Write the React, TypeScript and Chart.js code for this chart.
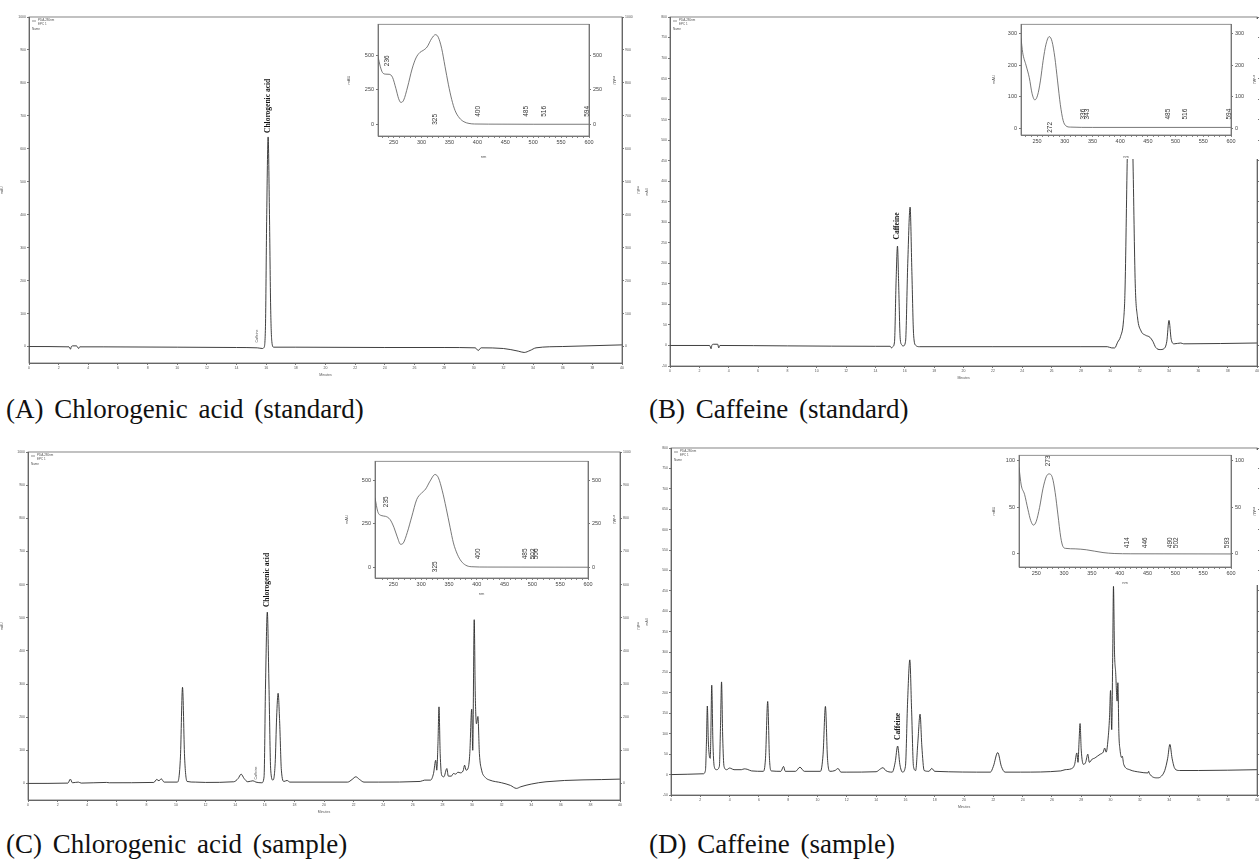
import React, { useEffect, useRef } from "react";
import { Chart, registerables } from "chart.js";

Chart.register(...registerables);
Chart.defaults.font.family = "'Liberation Sans', Arial, sans-serif";

type Pt = [number, number];
type TextItem = { x: number; y: number; text: string; font: string; align: CanvasTextAlign; color: string };

// ---------- chromatogram data (time in minutes, response in mAU) ----------
const chromA: Pt[] = [
  [0, 0], [2.7, -1], [2.8, -8], [2.85, -1], [2.95, 2], [3.2, 2], [3.35, -6], [3.42, -1], [5, -1], [10, -2],
  [14, -3], [15.4, -4], [15.75, -6], [15.85, -3], [15.95, 60], [16.03, 380], [16.13, 636], [16.22, 400],
  [16.3, 120], [16.38, 15], [16.5, -2], [18, -2], [24, -3], [28, -3], [30.1, -4], [30.3, -12], [30.5, -4],
  [32, -6], [33, -14], [33.4, -18], [33.8, -12], [34.2, -4], [36, 0], [40, 5],
];

const chromB: Pt[] = [
  [0, 0], [2.7, 0], [2.8, -8], [2.85, 0], [2.95, 3], [3.25, 3], [3.32, -6], [3.4, 0], [8, -1], [14, -2],
  [15.0, -2], [15.1, -6], [15.2, -2], [15.3, 10], [15.4, 150], [15.5, 242], [15.58, 150], [15.68, 20],
  [15.78, 2], [15.9, -1], [16.05, 10], [16.2, 200], [16.36, 337], [16.48, 180], [16.6, 25], [16.75, 0],
  [17, -3], [22, -3], [28, -3], [29.8, -3], [30.1, -6], [30.3, -6], [30.5, 8], [30.7, 22], [30.9, 60],
  [31.0, 130], [31.16, 463], [31.35, 780], [31.54, 463], [31.7, 150], [31.85, 70], [32.1, 35], [32.4, 25],
  [32.7, 20], [32.9, 10], [33.1, -5], [33.4, -10], [33.65, -8], [33.85, 10], [34.0, 61], [34.15, 15],
  [34.35, 4], [34.8, 6], [35, 4], [40, 6],
];

const chromC: Pt[] = [
  [0, 0], [2.7, 1], [2.86, 13], [3.0, 2], [3.4, 4], [3.6, 1], [5.3, 3], [5.5, 2], [8.5, 3], [8.7, 12],
  [8.85, 8], [9.0, 14], [9.2, 4], [10.1, 4], [10.3, 80], [10.44, 290], [10.58, 80], [10.75, 6], [11.3, 4],
  [12, 3], [13.9, 5], [14.2, 15], [14.4, 28], [14.6, 15], [14.85, 5], [15.2, 8], [15.4, 4], [15.8, 2],
  [15.95, 20], [16.05, 300], [16.17, 517], [16.28, 300], [16.4, 40], [16.55, 10], [16.7, 60], [16.8, 200],
  [16.9, 272], [17.0, 190], [17.12, 40], [17.3, 6], [17.5, 9], [17.7, 4], [21.6, 4], [21.9, 12],
  [22.15, 20], [22.4, 12], [22.7, 4], [23.7, 4], [26.5, 6], [26.8, 10], [27.2, 10], [27.4, 30],
  [27.55, 70], [27.62, 40], [27.7, 120], [27.77, 231], [27.85, 90], [27.95, 25], [28.1, 20], [28.3, 45],
  [28.4, 22], [28.6, 22], [28.75, 30], [28.9, 28], [29.05, 34], [29.2, 32], [29.4, 38], [29.5, 55],
  [29.6, 40], [29.75, 48], [29.85, 90], [29.98, 224], [30.05, 100], [30.15, 494], [30.22, 270],
  [30.3, 180], [30.4, 202], [30.5, 90], [30.65, 40], [30.9, 18], [31.2, 10], [32, 2], [32.6, -6],
  [33.0, -15], [33.3, -10], [34.0, -2], [35, 5], [40, 13],
];

const chromD: Pt[] = [
  [0, 0], [2.2, 2], [2.35, 10], [2.42, 80], [2.48, 168], [2.55, 80], [2.62, 45], [2.68, 40], [2.72, 100],
  [2.78, 219], [2.86, 80], [2.95, 20], [3.1, 12], [3.3, 20], [3.38, 120], [3.45, 227], [3.53, 90],
  [3.62, 20], [3.8, 12], [4.0, 16], [4.1, 15], [4.3, 12], [4.8, 12], [5.0, 14], [5.2, 13], [5.5, 9],
  [6.3, 8], [6.45, 40], [6.6, 179], [6.72, 40], [6.85, 9], [7.5, 8], [7.68, 20], [7.8, 8], [8.5, 8],
  [8.8, 18], [9.1, 8], [10.2, 8], [10.38, 50], [10.54, 167], [10.68, 40], [10.85, 8], [11.2, 10],
  [11.4, 15], [11.6, 6], [12, 6], [14, 7], [14.3, 14], [14.47, 17], [14.65, 10], [15.1, 6], [15.3, 30],
  [15.47, 70], [15.62, 25], [15.8, 6], [16.0, 20], [16.15, 180], [16.3, 281], [16.42, 160], [16.55, 20],
  [16.7, 10], [16.85, 80], [17.0, 148], [17.12, 70], [17.28, 10], [17.6, 8], [17.8, 15], [18.0, 8],
  [21.8, 6], [22.0, 20], [22.3, 54], [22.55, 20], [22.8, 6], [23.85, 6], [26.6, 9], [26.9, 12],
  [27.3, 14], [27.55, 25], [27.7, 53], [27.78, 30], [27.85, 80], [27.92, 125], [28.0, 60], [28.15, 25],
  [28.3, 30], [28.45, 50], [28.55, 30], [28.75, 38], [28.9, 40], [29.1, 45], [29.3, 50], [29.5, 55],
  [29.6, 65], [29.7, 55], [29.85, 95], [29.93, 140], [30.0, 206], [30.08, 110], [30.15, 300],
  [30.2, 461], [30.27, 300], [30.35, 250], [30.45, 180], [30.5, 225], [30.57, 100], [30.65, 60],
  [30.75, 42], [30.8, 45], [30.9, 25], [31.3, 12], [32, 6], [32.55, 4], [32.6, 8], [32.65, 3],
  [33.2, -8], [33.4, -6], [33.7, 10], [33.9, 40], [34.05, 74], [34.2, 40], [34.4, 14], [34.7, 10],
  [36, 10], [40, 12],
];

// ---------- UV spectra (wavelength nm, absorbance mAU) ----------
const specA: Pt[] = [
  [222, 490], [226, 420], [230, 375], [236, 363], [242, 362], [248, 340], [254, 260], [259, 185],
  [263, 158], [268, 175], [275, 270], [283, 400], [290, 480], [297, 520], [303, 535], [310, 560],
  [318, 620], [325, 649], [330, 630], [336, 550], [342, 420], [348, 290], [354, 180], [360, 100],
  [368, 45], [376, 18], [385, 6], [395, 2], [420, 1], [500, 0], [600, 0],
];
const specB: Pt[] = [
  [221, 285], [224, 240], [230, 200], [236, 160], [241, 110], [246, 90], [251, 105], [256, 150],
  [261, 215], [266, 265], [272, 290], [277, 275], [282, 225], [287, 150], [292, 75], [297, 25],
  [302, 8], [310, 4], [350, 3], [600, 3],
];
const specC: Pt[] = [
  [217, 400], [222, 320], [228, 298], [236, 293], [244, 275], [251, 230], [257, 175], [263, 132],
  [268, 140], [275, 200], [283, 290], [292, 390], [300, 425], [308, 450], [316, 496], [325, 534],
  [331, 515], [338, 440], [345, 340], [352, 230], [358, 140], [365, 75], [372, 35], [380, 12],
  [390, 3], [420, 1], [600, 0],
];
const specD: Pt[] = [
  [219, 93], [223, 74], [229, 64], [235, 48], [240, 36], [245, 31], [250, 35], [256, 50], [262, 70],
  [268, 83], [273, 86], [279, 82], [284, 66], [289, 42], [294, 18], [298, 8], [303, 6], [320, 5.5],
  [340, 4.5], [355, 3], [370, 1.5], [390, 0.5], [420, 0.2], [600, 0],
];

// ---------- ticks ----------
const mainXTicks = [0, 2, 4, 6, 8, 10, 12, 14, 16, 18, 20, 22, 24, 26, 28, 30, 32, 34, 36, 38, 40];
const yTicksAC = [0, 100, 200, 300, 400, 500, 600, 700, 800, 900, 1000];
const yTicksBD = [-50, 0, 50, 100, 150, 200, 250, 300, 350, 400, 450, 500, 550, 600, 650, 700, 750, 800];
const specXLabelled = [250, 300, 350, 400, 450, 500, 550, 600];
const specXAll = [230, 240, 250, 260, 270, 280, 290, 300, 310, 320, 330, 340, 350, 360, 370, 380, 390,
  400, 410, 420, 430, 440, 450, 460, 470, 480, 490, 500, 510, 520, 530, 540, 550, 560, 570, 580, 590, 600];
const specYTicksA = [0, 250, 500];
const specYTicksB = [0, 100, 200, 300];
const specYTicksC = [0, 250, 500];
const specYTicksD = [0, 50, 100];

// ---------- annotations ----------
const BOLD = "bold 7.5px 'Liberation Serif', 'Times New Roman', serif";
const SMALL = "3.5px 'Liberation Sans', Arial, sans-serif";
const NUM = "6.5px 'Liberation Sans', Arial, sans-serif";

const peakTextA: TextItem[] = [
  { x: 16.13, y: 648, text: "Chlorogenic acid", font: BOLD, align: "left", color: "#111" },
  { x: 15.4, y: 12, text: "Caffeine", font: SMALL, align: "left", color: "#555" },
];
const peakTextB: TextItem[] = [
  { x: 15.5, y: 258, text: "Caffeine", font: BOLD, align: "left", color: "#111" },
];
const peakTextC: TextItem[] = [
  { x: 16.17, y: 532, text: "Chlorogenic acid", font: BOLD, align: "left", color: "#111" },
  { x: 15.4, y: 12, text: "Caffeine", font: SMALL, align: "left", color: "#555" },
];
const peakTextD: TextItem[] = [
  { x: 15.47, y: 85, text: "Caffeine", font: BOLD, align: "left", color: "#111" },
];

const mk = (x: number, y: number, text: string): TextItem => ({ x, y, text, font: NUM, align: "center", color: "#333" });
const specTextA: TextItem[] = [mk(238, 460, "236"), mk(325, 35, "325"), mk(402, 93, "400"), mk(488, 93, "485"), mk(519, 93, "516"), mk(596, 93, "594")];
const specTextB: TextItem[] = [mk(273, 3, "272"), mk(334, 45, "336"), mk(341, 45, "343"), mk(487, 45, "485"), mk(518, 45, "516"), mk(596, 45, "594")];
const specTextC: TextItem[] = [mk(237, 377, "235"), mk(325, 3, "325"), mk(402, 77, "400"), mk(487, 77, "485"), mk(501, 77, "502"), mk(507, 77, "506")];
const specTextD: TextItem[] = [mk(272, 100, "273"), mk(414, 12, "414"), mk(446, 12, "446"), mk(490, 12, "490"), mk(502, 12, "502"), mk(593, 12, "593")];

// ---------- plugins ----------
const framePlugin = (color: string) => ({
  id: "frame",
  afterDraw(chart: any) {
    const { ctx, chartArea } = chart;
    ctx.save();
    ctx.strokeStyle = color;
    ctx.lineWidth = 0.8;
    ctx.strokeRect(chartArea.left, chartArea.top, chartArea.right - chartArea.left, chartArea.bottom - chartArea.top);
    ctx.restore();
  },
});

const textPlugin = (items: TextItem[]) => ({
  id: "peakText",
  afterDatasetsDraw(chart: any) {
    const { ctx } = chart;
    const xs = chart.scales.x;
    const ys = chart.scales.y;
    items.forEach((it) => {
      ctx.save();
      ctx.translate(xs.getPixelForValue(it.x), ys.getPixelForValue(it.y));
      ctx.rotate(-Math.PI / 2);
      ctx.font = it.font;
      ctx.fillStyle = it.color;
      ctx.textAlign = it.align;
      ctx.textBaseline = "middle";
      ctx.fillText(it.text, 0, 0);
      ctx.restore();
    });
  },
});

const legendPlugin = {
  id: "softLegend",
  afterDraw(chart: any) {
    const { ctx, chartArea } = chart;
    const l = chartArea.left;
    const t = chartArea.top;
    ctx.save();
    ctx.strokeStyle = "#444";
    ctx.lineWidth = 0.6;
    ctx.beginPath();
    ctx.moveTo(l + 3, t + 4);
    ctx.lineTo(l + 7, t + 4);
    ctx.stroke();
    ctx.fillStyle = "#555";
    ctx.font = "3px 'Liberation Sans', Arial, sans-serif";
    ctx.textBaseline = "middle";
    ctx.fillText("PDA-280nm", l + 9, t + 3.5);
    ctx.fillText("EPC 1", l + 9, t + 7);
    ctx.fillText("Name", l + 3, t + 12);
    ctx.restore();
  },
};

// ---------- configs ----------
type Box = { axL: number; axR: number; padTop: number; axB: number };

function mainConfig(data: Pt[], yMin: number, yMax: number, yTicks: number[], texts: TextItem[], box: Box): any {
  const tickFont = { size: 3.5 };
  const yAxis = (pos: "left" | "right", w: number) => ({
    type: "linear",
    position: pos,
    min: yMin,
    max: yMax,
    afterBuildTicks: (s: any) => { s.ticks = yTicks.map((v) => ({ value: v })); },
    afterFit: (s: any) => { s.width = w; },
    ticks: { font: tickFont, color: "#555", padding: 1, autoSkip: false, display: w > 4, callback: (v: any) => String(v) },
    grid: { drawOnChartArea: false, tickLength: 2, color: "#777" },
    border: { color: "#666" },
    title: { display: w > 4, text: "mAU", font: { size: 3.5 }, color: "#555", padding: 0 },
  });
  return {
    type: "line",
    data: {
      datasets: [{
        data: data.map(([x, y]) => ({ x, y })),
        borderColor: "#2a2a2a",
        borderWidth: 0.9,
        pointRadius: 0,
        cubicInterpolationMode: "monotone",
        fill: false,
      }],
    },
    options: {
      animation: false,
      responsive: false,
      maintainAspectRatio: false,
      events: [],
      layout: { padding: { top: box.padTop, left: 0, right: 0, bottom: 0 } },
      plugins: { legend: { display: false }, tooltip: { enabled: false } },
      scales: {
        x: {
          type: "linear",
          min: 0,
          max: 40,
          afterBuildTicks: (s: any) => { s.ticks = mainXTicks.map((v) => ({ value: v })); },
          afterFit: (s: any) => { s.height = box.axB; },
          ticks: { font: tickFont, color: "#555", padding: 1, autoSkip: false, maxRotation: 0, callback: (v: any) => String(v) },
          grid: { drawOnChartArea: false, tickLength: 2, color: "#777" },
          border: { color: "#666" },
          title: { display: true, text: "Minutes", font: { size: 3.5 }, color: "#555", padding: 0 },
        },
        y: yAxis("left", box.axL),
        y2: yAxis("right", box.axR),
      },
    },
    plugins: [framePlugin("#666"), textPlugin(texts), legendPlugin],
  };
}

function specConfig(data: Pt[], xMin: number, yMin: number, yMax: number, yTicks: number[], texts: TextItem[], box: Box): any {
  const tickFont = { size: 5.5 };
  const yAxis = (pos: "left" | "right", w: number) => ({
    type: "linear",
    position: pos,
    min: yMin,
    max: yMax,
    afterBuildTicks: (s: any) => { s.ticks = yTicks.map((v) => ({ value: v })); },
    afterFit: (s: any) => { s.width = w; },
    ticks: { font: tickFont, color: "#444", padding: 2, autoSkip: false, callback: (v: any) => String(v) },
    grid: { drawOnChartArea: false, tickLength: 2, color: "#777" },
    border: { color: "#777" },
    title: { display: true, text: "mAU", font: { size: 4 }, color: "#555", padding: 1 },
  });
  return {
    type: "line",
    data: {
      datasets: [{
        data: data.map(([x, y]) => ({ x, y })),
        borderColor: "#555",
        borderWidth: 0.8,
        pointRadius: 0,
        cubicInterpolationMode: "monotone",
        fill: false,
      }],
    },
    options: {
      animation: false,
      responsive: false,
      maintainAspectRatio: false,
      events: [],
      layout: { padding: { top: box.padTop, left: 0, right: 0, bottom: 0 } },
      plugins: { legend: { display: false }, tooltip: { enabled: false } },
      scales: {
        x: {
          type: "linear",
          min: xMin,
          max: 600,
          afterBuildTicks: (s: any) => { s.ticks = specXAll.map((v) => ({ value: v })); },
          afterFit: (s: any) => { s.height = box.axB; },
          ticks: {
            font: tickFont, color: "#444", padding: 1, autoSkip: false, maxRotation: 0,
            callback: (v: any) => (specXLabelled.includes(v) ? String(v) : ""),
          },
          grid: { drawOnChartArea: false, tickLength: 2, color: "#888" },
          border: { color: "#777" },
          title: { display: true, text: "nm", font: { size: 4 }, color: "#555", padding: 0 },
        },
        y: yAxis("left", box.axL),
        y2: yAxis("right", box.axR),
      },
    },
    plugins: [framePlugin("#777"), textPlugin(texts)],
  };
}

function ChartBox({ make, left, top, width, height, bg }: { make: () => any; left: number; top: number; width: number; height: number; bg?: string }) {
  const ref = useRef<HTMLCanvasElement>(null);
  useEffect(() => {
    const chart = new Chart(ref.current as HTMLCanvasElement, make());
    return () => chart.destroy();
  }, []);
  return (
    <canvas
      ref={ref}
      width={width}
      height={height}
      style={{ position: "absolute", left, top, width, height, background: bg || "transparent" }}
    />
  );
}

const captionStyle = (left: number, top: number): React.CSSProperties => ({
  position: "absolute",
  left,
  top,
  fontFamily: "'Liberation Serif', 'Times New Roman', serif",
  fontSize: 27,
  lineHeight: "27px",
  wordSpacing: 4,
  color: "#111",
  whiteSpace: "nowrap",
});

export default function App() {
  return (
    <div style={{ position: "absolute", left: 0, top: 0, width: 1260, height: 865, background: "#fff", overflow: "hidden" }}>
      {/* Main chromatograms */}
      <ChartBox make={() => mainConfig(chromA, -50, 1000, yTicksAC, peakTextA, { axL: 29, axR: 18, padTop: 17, axB: 14 })} left={0} top={0} width={640} height={377} />
      <ChartBox make={() => mainConfig(chromB, -50, 800, yTicksBD, peakTextB, { axL: 25, axR: 1, padTop: 17, axB: 14 })} left={645} top={0} width={615} height={380} />
      <ChartBox make={() => mainConfig(chromC, -50, 1000, yTicksAC, peakTextC, { axL: 28, axR: 20, padTop: 12, axB: 14 })} left={0} top={440} width={640} height={374} />
      <ChartBox make={() => mainConfig(chromD, -50, 800, yTicksBD, peakTextD, { axL: 26, axR: 1, padTop: 8, axB: 14 })} left={645} top={440} width={615} height={369} />

      {/* Inset UV spectra */}
      <ChartBox make={() => specConfig(specA, 222, -85, 724, specYTicksA, specTextA, { axL: 33, axR: 29, padTop: 3, axB: 23 })} left={345} top={19} width={273} height={140} bg="#fff" />
      <ChartBox make={() => specConfig(specB, 221, -21, 329, specYTicksB, specTextB, { axL: 31, axR: 27, padTop: 5, axB: 24 })} left={990} top={19} width={268} height={140} bg="#fff" />
      <ChartBox make={() => specConfig(specC, 217, -62, 610, specYTicksC, specTextC, { axL: 32, axR: 30, padTop: 4, axB: 18 })} left={343} top={456} width={275} height={140} bg="#fff" />
      <ChartBox make={() => specConfig(specD, 219, -14, 106, specYTicksD, specTextD, { axL: 29, axR: 27, padTop: 3, axB: 18 })} left={990} top={450} width={268} height={135} bg="#fff" />

      {/* Captions */}
      <div style={captionStyle(6, 396)}>(A) Chlorogenic acid (standard)</div>
      <div style={captionStyle(649, 396)}>(B) Caffeine (standard)</div>
      <div style={captionStyle(6, 831)}>(C) Chlorogenic acid (sample)</div>
      <div style={captionStyle(649, 831)}>(D) Caffeine (sample)</div>
    </div>
  );
}
